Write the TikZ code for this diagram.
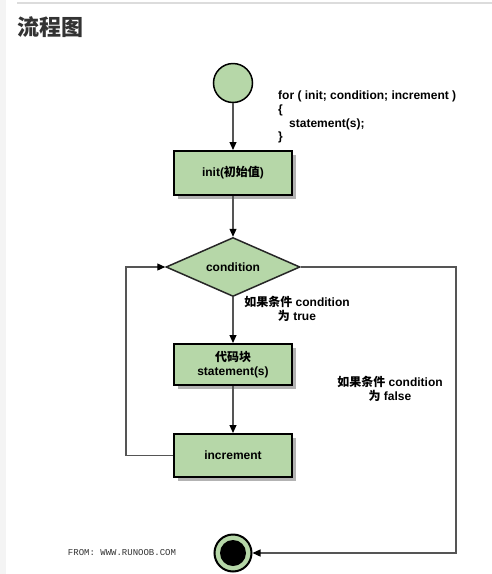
\documentclass[tikz,border=0pt]{standalone}
\usepackage{fontspec}
\setmainfont{Liberation Sans}
\newfontfamily\cjk{Noto Sans CJK SC}
\newfontfamily\mono{Liberation Mono}
\usetikzlibrary{shapes.geometric,arrows.meta,shadows}
\definecolor{boxgreen}{HTML}{B6D7A8}
\definecolor{shadowgray}{HTML}{B3B3B3}
\definecolor{linegray}{HTML}{555555}
\definecolor{leftgray}{HTML}{F4F4F4}
\definecolor{topline}{HTML}{DCDCDC}
\definecolor{titlecol}{HTML}{333333}
\begin{document}
\begin{tikzpicture}[x=1pt,y=-1pt,
  stepbox/.style={draw=black, line width=2, fill=boxgreen, minimum width=118,
    inner sep=0, align=center,
    general shadow={fill=shadowgray, shadow xshift=4pt, shadow yshift=-4pt},
    font=\bfseries\fontsize{12}{14}\selectfont},
  decision/.style={diamond, draw=black!85, line width=1.5, fill=boxgreen,
    aspect=2.27, inner sep=0, minimum width=134, minimum height=59,
    font=\bfseries\fontsize{12}{14}\selectfont},
  conn/.style={draw=linegray, line width=1.2, -{Triangle[length=8pt,width=7pt,color=black]}},
  lbl/.style={inner sep=0, align=center, font=\bfseries\fontsize{12}{14}\selectfont},
  codeline/.style={inner sep=0, anchor=base west, font=\bfseries\fontsize{12}{14}\selectfont}]
\useasboundingbox (0,0) rectangle (492,574);
\fill[white] (0,0) rectangle (492,574);
\fill[leftgray] (0,0) rectangle (6,574);
\draw[topline, line width=1.5] (17,3) -- (492,3);
\node[anchor=west, inner sep=0, text=titlecol, font=\cjk\bfseries\fontsize{22}{24}\selectfont] (title) at (17,27) {流程图};

\node[circle, draw=black, line width=1.5, fill=boxgreen, minimum size=39, inner sep=0] (start) at (233,83) {};
\node[codeline] (c1) at (278,99.5) {for ( init; condition; increment )};
\node[codeline] (c2) at (278,113.3) {\{};
\node[codeline] (c3) at (289,127) {statement(s);};
\node[codeline] (c4) at (278,140.7) {\}};

\node[stepbox, minimum height=44] (init) at (233,173) {init({\cjk 初始值})};
\node[decision] (cond) at (233,267) {condition};
\node[stepbox, minimum height=41] (stmt) at (233,364.5) {{\cjk 代码块}\\statement(s)};
\node[stepbox, minimum height=43] (incr) at (233,455.5) {increment};
\node[circle, draw=black, line width=2, fill=boxgreen, minimum size=37, inner sep=0] (end) at (233,553) {};
\fill[black] (end.center) circle[radius=13];

\node[lbl] (ltrue) at (297,309) {{\cjk 如果条件} condition\\{\cjk 为} true};
\node[lbl] (lfalse) at (390,389) {{\cjk 如果条件} condition\\{\cjk 为} false};
\node[inner sep=0, text=titlecol, font=\mono\fontsize{9}{10}\selectfont] (from) at (122,553) {FROM: WWW.RUNOOB.COM};

\coordinate (lc) at (126,455.5);
\coordinate (rc) at (456,553);
\draw[conn] (start) -- (init);
\draw[conn] (init) -- (cond);
\draw[conn] (cond) -- (stmt);
\draw[conn] (stmt) -- (incr);
\draw[conn] (incr.west) -- (lc) |- (cond.west);
\draw[conn] (cond.east) -| (rc) -- (end.east);
\end{tikzpicture}
\end{document}
